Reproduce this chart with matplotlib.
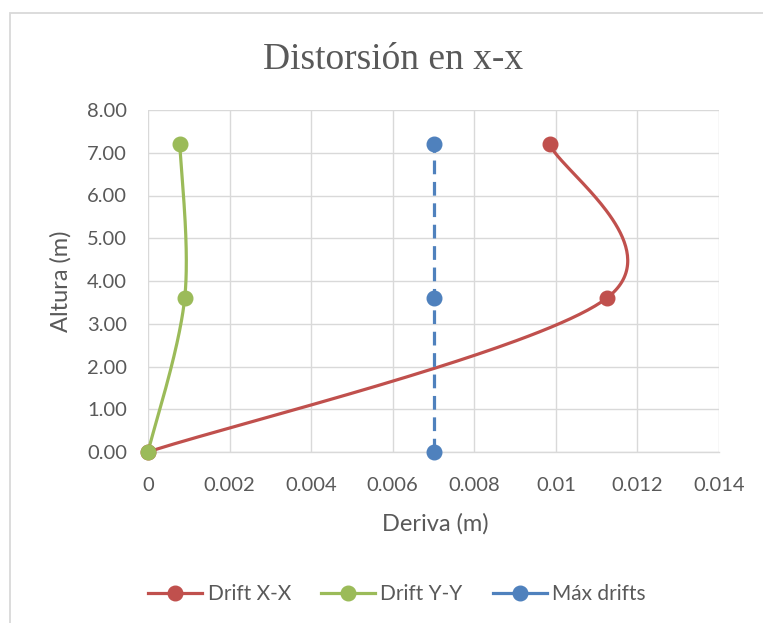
import numpy as np
import matplotlib
matplotlib.use("Agg")
import matplotlib.pyplot as plt
from matplotlib.lines import Line2D
from matplotlib.patches import Rectangle

# Story heights (m) and inter-storey drift values
altura = [0.0, 3.6, 7.2]
drift_xx = [0.0, 0.01125, 0.00985]
drift_yy = [0.0, 0.0009, 0.00078]
max_drift = [0.007, 0.007, 0.007]

x_ticks = [0, 0.002, 0.004, 0.006, 0.008, 0.010, 0.012, 0.014]
x_labels = ["0", "0.002", "0.004", "0.006", "0.008", "0.01", "0.012", "0.014"]
y_ticks = [0, 1, 2, 3, 4, 5, 6, 7, 8]
y_labels = ["0.00", "1.00", "2.00", "3.00", "4.00", "5.00", "6.00", "7.00", "8.00"]

RED = "#C0504D"
GREEN = "#9BBB59"
BLUE = "#4F81BD"
TEXT = "#595959"
GRID = "#D9D9D9"
FONT = "Lato"

W, H = 763, 623
fig = plt.figure(figsize=(W / 100, H / 100), dpi=100)
ax = fig.add_axes([148 / W, 1 - 452 / H, 571 / W, 342 / H])
ax.set_xlim(0, 0.014)
ax.set_ylim(0, 8)
ax.set_xticks(x_ticks)
ax.set_xticklabels(x_labels)
ax.set_yticks(y_ticks)
ax.set_yticklabels(y_labels)
ax.tick_params(length=0, labelsize=14.5, colors=TEXT)
ax.tick_params(axis="y", pad=15)
ax.tick_params(axis="x", pad=18)
for lab in ax.get_xticklabels() + ax.get_yticklabels():
    lab.set_family(FONT)
ax.grid(True, color=GRID, lw=1.0)
ax.set_axisbelow(True)
for s in ["top", "right", "left"]:
    ax.spines[s].set_visible(False)
ax.spines["bottom"].set_color(GRID)
ax.spines["bottom"].set_linewidth(1.0)


def smooth(ax, xs, ys, n=80):
    """Bezier smoothing of a polyline, computed in display space."""
    pts = ax.transData.transform(np.column_stack([xs, ys]))
    m = len(pts)
    out = [pts[:1]]
    t = np.linspace(0, 1, n)[1:, None]
    for i in range(m - 1):
        p0 = pts[max(i - 1, 0)]
        p1 = pts[i]
        p2 = pts[i + 1]
        p3 = pts[min(i + 2, m - 1)]
        c1 = p1 + (p2 - p0) / 6
        c2 = p2 - (p3 - p1) / 6
        seg = ((1 - t) ** 3) * p1 + 3 * ((1 - t) ** 2) * t * c1 \
            + 3 * (1 - t) * t ** 2 * c2 + t ** 3 * p2
        out.append(seg)
    res = ax.transData.inverted().transform(np.vstack(out))
    return res[:, 0], res[:, 1]


lw = 2.3
ms = 10.5
for xs, col in [(drift_xx, RED), (drift_yy, GREEN)]:
    sx, sy = smooth(ax, xs, altura)
    ax.plot(sx, sy, color=col, lw=lw, solid_capstyle="round", zorder=3)
    ax.plot(xs, altura, "o", color=col, ms=ms, zorder=4, clip_on=False)

ax.plot(max_drift, altura, color=BLUE, lw=lw, dashes=(4.3, 2.4), zorder=3)
ax.plot(max_drift, altura, "o", color=BLUE, ms=ms, zorder=4, clip_on=False)

# chart area border
fig.add_artist(Rectangle((9.5 / W, -0.1), 1.2, 1 - 13 / H + 0.1,
                         transform=fig.transFigure, fill=False,
                         ec=GRID, lw=1.3, clip_on=False))

fig.text(393 / W, 1 - 69 / H, "Distorsión en x-x", ha="center",
         va="baseline", family="Liberation Serif", size=27, color=TEXT)
fig.text(435 / W, 1 - 524 / H, "Deriva (m)", ha="center", va="center",
         family=FONT, size=17, color=TEXT)
fig.text(61 / W, 1 - 281 / H, "Altura (m)", ha="center", va="center",
         rotation=90, family=FONT, size=17, color=TEXT)

handles = [Line2D([], [], color=c, lw=lw, marker="o", ms=ms)
           for c in (RED, GREEN, BLUE)]
leg = fig.legend(handles, ["Drift X-X", "Drift Y-Y", "Máx drifts"],
                 loc="center", bbox_to_anchor=(397 / W, 1 - 594 / H),
                 ncol=3, frameon=False, handlelength=2.6,
                 handletextpad=0.25, columnspacing=1.45,
                 prop={"family": FONT, "size": 15})
for txt in leg.get_texts():
    txt.set_color(TEXT)

fig.savefig("out.png", dpi=100, facecolor="white")
